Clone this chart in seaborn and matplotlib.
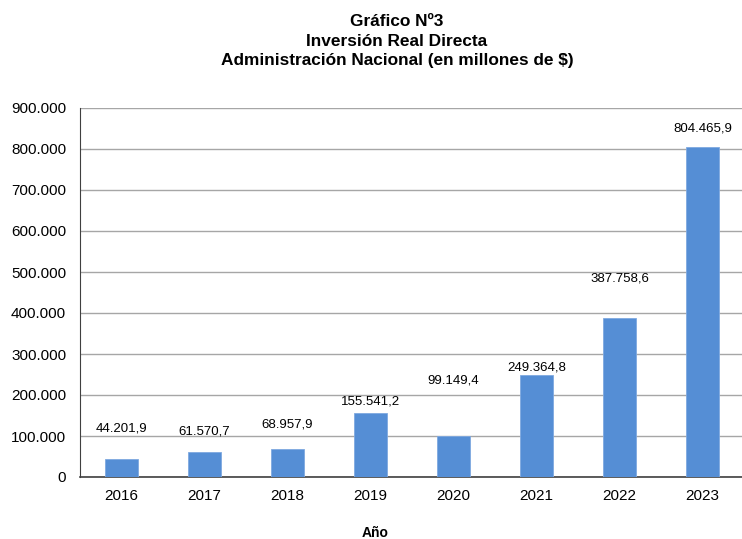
import matplotlib
matplotlib.use("Agg")
import matplotlib.pyplot as plt
import seaborn as sns
import pandas as pd

# datos del grafico
anios = ["2016", "2017", "2018", "2019", "2020", "2021", "2022", "2023"]
inversion = [44201.9, 61570.7, 68957.9, 155541.2, 99149.4, 249364.8, 387758.6, 804465.9]
etiquetas = ["44.201,9", "61.570,7", "68.957,9", "155.541,2", "99.149,4", "249.364,8", "387.758,6", "804.465,9"]
# altura donde van las etiquetas (como en el original de Excel)
etiqueta_y = [119500, 110000, 127000, 185000, 236000, 268000, 485000, 849000]
yticks = [0, 100000, 200000, 300000, 400000, 500000, 600000, 700000, 800000, 900000]
ytick_labels = ["0", "100.000", "200.000", "300.000", "400.000", "500.000", "600.000", "700.000", "800.000", "900.000"]

sns.set_style("white")
plt.rcParams["font.family"] = ["Liberation Sans", "DejaVu Sans"]
plt.rcParams["text.color"] = "black"
plt.rcParams["xtick.color"] = "black"
plt.rcParams["ytick.color"] = "black"

df = pd.DataFrame({"Año": anios, "Inversion": inversion})

fig = plt.figure(figsize=(7.42, 5.39), dpi=100)
ax = fig.add_axes([80 / 742, 1 - 477 / 539, 664 / 742, 369 / 539])

sns.barplot(data=df, x="Año", y="Inversion", color="#558ed5", width=0.4,
            saturation=1, edgecolor="#7fa9e0", linewidth=0.6, ax=ax, zorder=3)

for i, txt in enumerate(etiquetas):
    ax.text(i, etiqueta_y[i], txt, ha="center", va="center", fontsize=9.5, color="black")

ax.set_ylim(0, 900000)
ax.set_xlim(-0.5, 7.5)
ax.set_yticks(yticks)
ax.set_yticklabels(ytick_labels, fontsize=11)
ax.yaxis.grid(True, color="#a6a6a6", linewidth=1, zorder=0)
ax.set_axisbelow(True)

# marcas del eje x entre categorias
ax.set_xticks([i + 0.5 for i in range(-1, 8)], minor=True)
ax.tick_params(axis="x", which="minor", length=6, width=1, color="#404040", direction="out")
ax.tick_params(axis="x", which="major", length=0, labelsize=11, pad=9)
ax.tick_params(axis="y", length=6, width=1, color="#404040", direction="out", pad=4)

for s in ["top", "right"]:
    ax.spines[s].set_visible(False)
ax.spines["left"].set_color("#404040")
ax.spines["bottom"].set_color("#404040")
ax.spines["bottom"].set_linewidth(1.2)

ax.set_ylabel("")
ax.set_xlabel("")
fig.text(375 / 742, 1 - 533 / 539, "Año", ha="center", va="center", fontsize=10, fontweight="bold")

fig.text(397 / 742, 1 - 41 / 539, "Gráfico Nº3\nInversión Real Directa\nAdministración Nacional (en millones de $)",
         ha="center", va="center", fontsize=12.4, fontweight="bold", linespacing=1.4)

plt.savefig("out.png", dpi=100)
